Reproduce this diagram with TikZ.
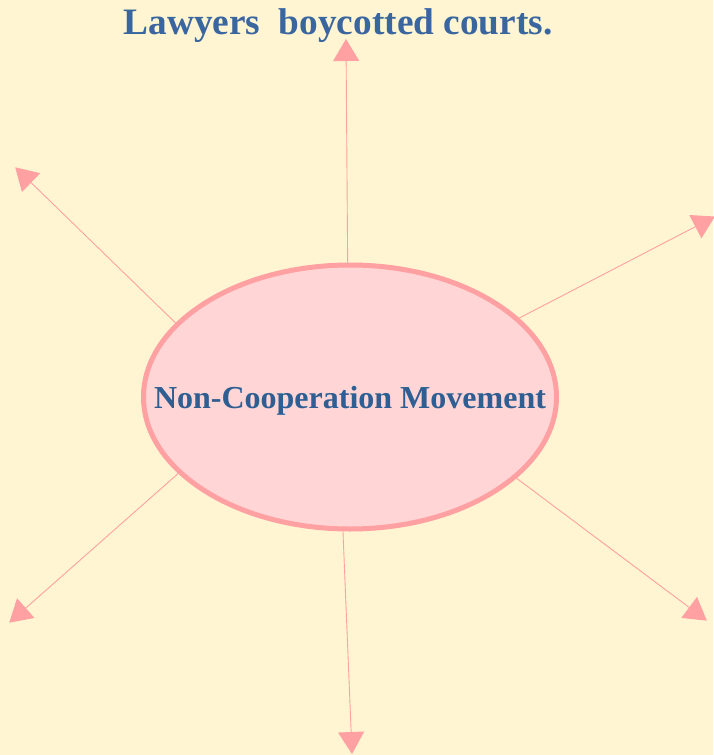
\documentclass[tikz,border=0pt]{standalone}
\usepackage{fontspec}
\setmainfont{Liberation Serif}
\usetikzlibrary{shapes.geometric,arrows.meta}
\definecolor{bg}{HTML}{FFF5D2}
\definecolor{ellfill}{HTML}{FFD5D6}
\definecolor{ellline}{HTML}{FFA0A2}
\definecolor{txtblue}{HTML}{3A66A0}
\definecolor{txtblue2}{HTML}{2E5E92}
\tikzset{
  conn/.style={draw=ellline, line width=0.9pt, -{Triangle[length=22pt,width=26pt]}, shorten >=-1pt},
}
\begin{document}
\begin{tikzpicture}[x=1pt,y=-1pt]
\fill[bg] (0,0) rectangle (713,755);
\useasboundingbox (0,0) rectangle (713,755);
\node[ellipse, draw=ellline, fill=ellfill, line width=5pt, minimum width=413pt, minimum height=264pt, inner sep=0pt] (e) at (350,397) {};
\node[font=\bfseries\fontsize{32}{36}\selectfont, text=txtblue2, anchor=base] (c) at (350,408) {Non-Cooperation Movement};
\node[font=\bfseries\fontsize{37.3}{42}\selectfont, text=txtblue, anchor=base] (t) at (338,34) {Lawyers\ \ boycotted courts.};
\coordinate (up) at (346,40);
\coordinate (ul) at (16,168);
\coordinate (ur) at (714,217);
\coordinate (ll) at (10,622);
\coordinate (lr) at (706,620);
\coordinate (dn) at (352,753);
\draw[conn] (e.91.7) -- (up);
\draw[conn] (e.157.2) -- (ul);
\draw[conn] (e.25.2) -- (ur);
\draw[conn] (e.204.7) -- (ll);
\draw[conn] (e.334.5) -- (lr);
\draw[conn] (e.267) -- (dn);
\end{tikzpicture}
\end{document}
